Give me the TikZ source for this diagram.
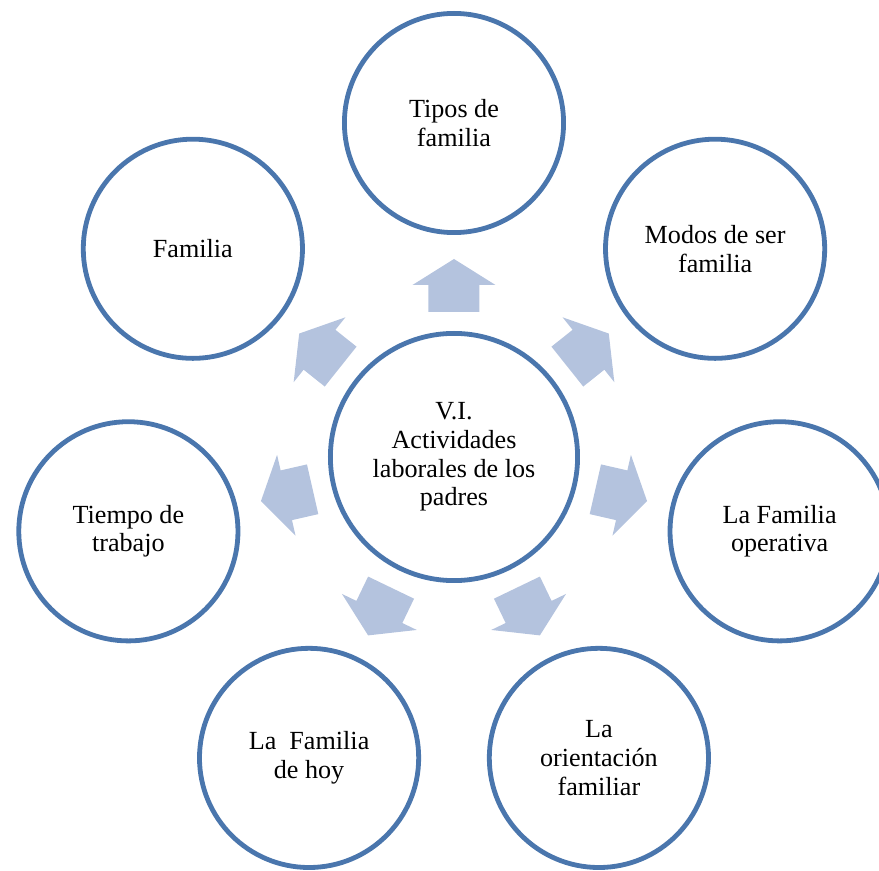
\documentclass[tikz,border=0pt]{standalone}
\usepackage{fontspec}
\setmainfont{Liberation Serif}
\definecolor{ringblue}{HTML}{4A76AD}
\definecolor{arrowblue}{HTML}{B4C3DE}
\begin{document}
\begin{tikzpicture}[x=0.75pt, y=0.75pt,
    ring/.style={circle, draw=ringblue, line width=3.6pt, fill=white,
      minimum size=164.4pt, inner sep=0pt, align=center,
      font=\fontsize{19.6}{21.6}\selectfont},
    hub/.style={ring, minimum size=185.4pt},
    blockarrow/.style={fill=arrowblue}]
  \useasboundingbox (-454,-414) rectangle (425,457);
  % arrows going out from the middle
  \foreach \k in {0,...,6}
    \fill[blockarrow, rotate=90-\k*360/7]
      (145,-25.5) -- (172,-25.5) -- (172,-41.5) -- (198,0)
      -- (172,41.5) -- (172,25.5) -- (145,25.5) -- cycle;
  \node[hub] (vi) at (0,0) {V.I.\\Actividades\\laborales de los\\padres};
  \node[ring] (tipos) at (90:334) {Tipos de\\familia};
  \node[ring] (modos) at (38.571:334) {Modos de ser\\familia};
  \node[ring] (operativa) at (-12.857:334) {La Familia\\operativa};
  \node[ring] (orientacion) at (-64.286:334) {La\\orientación\\familiar};
  \node[ring] (hoy) at (-115.714:334) {La\ \ Familia\\de hoy};
  \node[ring] (tiempo) at (-167.143:334) {Tiempo de\\trabajo};
  \node[ring] (familia) at (141.429:334) {Familia};
\end{tikzpicture}
\end{document}
